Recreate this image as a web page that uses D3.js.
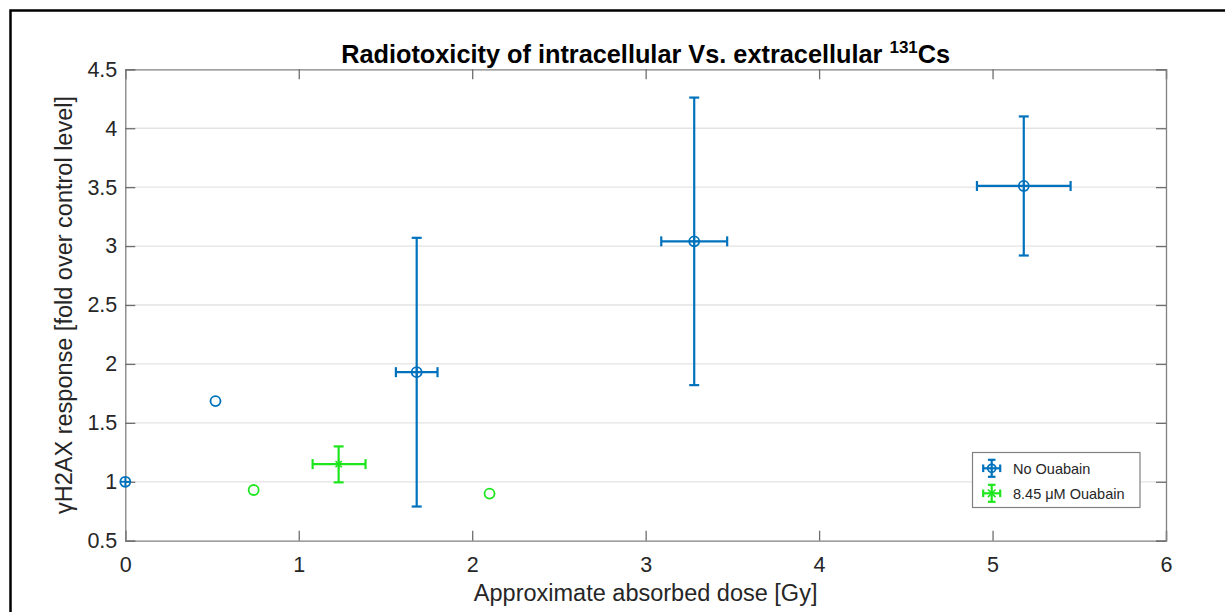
<!DOCTYPE html>
<html><head><meta charset="utf-8">
<script src="https://cdn.jsdelivr.net/npm/d3@7"></script>
<style>html,body{margin:0;background:#fff;overflow:hidden;} svg{display:block;font-family:Arial,"Liberation Sans",sans-serif;}</style>
</head><body>
<svg id="c" width="1225" height="612"></svg>
<script>
const xTicks = [0, 1, 2, 3, 4, 5, 6];
const yTicks = [0.5, 1, 1.5, 2, 2.5, 3, 3.5, 4, 4.5];
const yTickLabels = ["0.5", "1", "1.5", "2", "2.5", "3", "3.5", "4", "4.5"];

// No Ouabain (errorbar series)
const noOuaDose  = [0, 1.68, 3.28, 5.18];
const noOuaResp  = [1, 1.93, 3.04, 3.51];
const noOuaXLow  = [0, 1.56, 3.09, 4.91];
const noOuaXHigh = [0, 1.80, 3.47, 5.45];
const noOuaYLow  = [1, 0.79, 1.82, 2.92];
const noOuaYHigh = [1, 3.07, 4.26, 4.10];
// No Ouabain single point
const noOuaExtraDose = [0.52];
const noOuaExtraResp = [1.685];

// 8.45 µM Ouabain (errorbar series)
const ouaDose  = [1.23];
const ouaResp  = [1.15];
const ouaXLow  = [1.08];
const ouaXHigh = [1.385];
const ouaYLow  = [0.995];
const ouaYHigh = [1.30];
// Ouabain single points
const ouaExtraDose = [0.74, 2.10];
const ouaExtraResp = [0.93, 0.90];

const legendLabels = ["No Ouabain", "8.45 \u03bcM Ouabain"];
const titleMain = "Radiotoxicity of intracellular Vs. extracellular ";
const titleSup = "131";
const titleEnd = "Cs";
const xLabel = "Approximate absorbed dose [Gy]";
const yLabel = "\u03b3H2AX response [fold over control level]";

const blue = "#0072BD", green = "#1ee61e";
const svg = d3.select("#c");
const L = 125.3, R = 1166, T = 69.3, B = 540.7;
const x = d3.scaleLinear().domain([0, 6]).range([L, R]);
const y = d3.scaleLinear().domain([0.5, 4.5]).range([B, T]);

// outer black frame (only top/left edges are inside the picture)
svg.append("path").attr("d", "M10.5,612 V10.5 H1225")
  .attr("fill", "none").attr("stroke", "#000").attr("stroke-width", 2.5);

// grid
svg.append("g").selectAll("line").data(yTicks.slice(1, -1)).join("line")
  .attr("x1", L).attr("x2", R).attr("y1", d => y(d)).attr("y2", d => y(d))
  .attr("stroke", "#e3e3e3").attr("stroke-width", 1.3);

// axes
const tl = 10;
const axB = svg.append("g").attr("transform", `translate(0,${B})`)
  .call(d3.axisBottom(x).tickValues(xTicks).tickFormat(d3.format("d")).tickSize(-tl).tickPadding(16));
const axT = svg.append("g").attr("transform", `translate(0,${T})`)
  .call(d3.axisTop(x).tickValues(xTicks).tickFormat("").tickSize(-tl));
const axL = svg.append("g").attr("transform", `translate(${L},0)`)
  .call(d3.axisLeft(y).tickValues(yTicks).tickFormat((d, i) => yTickLabels[i]).tickSize(-tl).tickPadding(8));
const axR = svg.append("g").attr("transform", `translate(${R},0)`)
  .call(d3.axisRight(y).tickValues(yTicks).tickFormat("").tickSize(-tl));
[axB, axT, axL, axR].forEach(a => {
  a.select(".domain").attr("stroke", "#808080").attr("stroke-width", 1.3);
  a.selectAll(".tick line").attr("stroke", "#6e6e6e").attr("stroke-width", 1.3);
  a.selectAll("text").attr("fill", "#262626").attr("font-size", 21.5)
    .attr("font-family", "Arial, 'Liberation Sans', sans-serif");
});
axB.selectAll("text").attr("dy", "0.71em");

// errorbars
function errorbars(g, color, dx, dy, xl, xh, yl, yh) {
  const cap = 5;
  dx.forEach((d, i) => {
    const cx = x(d), cy = y(dy[i]);
    if (yl[i] !== yh[i]) {
      g.append("line").attr("x1", cx).attr("x2", cx).attr("y1", y(yl[i])).attr("y2", y(yh[i]));
      [yl[i], yh[i]].forEach(v => g.append("line").attr("x1", cx - cap).attr("x2", cx + cap).attr("y1", y(v)).attr("y2", y(v)));
    }
    if (xl[i] !== xh[i]) {
      g.append("line").attr("x1", x(xl[i])).attr("x2", x(xh[i])).attr("y1", cy).attr("y2", cy);
      [xl[i], xh[i]].forEach(v => g.append("line").attr("x1", x(v)).attr("x2", x(v)).attr("y1", cy - cap).attr("y2", cy + cap));
    }
  });
  g.attr("stroke", color).attr("stroke-width", 2.2).attr("fill", "none");
}
function circles(g, color, dx, dy, cross) {
  dx.forEach((d, i) => {
    const cx = x(d), cy = y(dy[i]), r = 5;
    g.append("circle").attr("cx", cx).attr("cy", cy).attr("r", r);
    if (cross) {
      g.append("line").attr("x1", cx - r).attr("x2", cx + r).attr("y1", cy).attr("y2", cy);
      g.append("line").attr("x1", cx).attr("x2", cx).attr("y1", cy - r).attr("y2", cy + r);
    }
  });
  g.attr("stroke", color).attr("stroke-width", 1.8).attr("fill", "none");
}
function stars(g, color, dx, dy) {
  dx.forEach((d, i) => {
    const cx = x(d), cy = y(dy[i]), r = 4.5;
    g.append("line").attr("x1", cx - r).attr("x2", cx + r).attr("y1", cy).attr("y2", cy);
    g.append("line").attr("x1", cx).attr("x2", cx).attr("y1", cy - r).attr("y2", cy + r);
    g.append("line").attr("x1", cx - r * .7).attr("x2", cx + r * .7).attr("y1", cy - r * .7).attr("y2", cy + r * .7);
    g.append("line").attr("x1", cx - r * .7).attr("x2", cx + r * .7).attr("y1", cy + r * .7).attr("y2", cy - r * .7);
  });
  g.attr("stroke", color).attr("stroke-width", 1.6).attr("fill", "none");
}

errorbars(svg.append("g"), blue, noOuaDose, noOuaResp, noOuaXLow, noOuaXHigh, noOuaYLow, noOuaYHigh);
circles(svg.append("g"), blue, noOuaDose, noOuaResp, true);
circles(svg.append("g"), blue, noOuaExtraDose, noOuaExtraResp, false);
errorbars(svg.append("g"), green, ouaDose, ouaResp, ouaXLow, ouaXHigh, ouaYLow, ouaYHigh);
stars(svg.append("g"), green, ouaDose, ouaResp);
circles(svg.append("g"), green, ouaExtraDose, ouaExtraResp, false);

// legend
const lg = svg.append("g");
lg.append("rect").attr("x", 972.5).attr("y", 452.5).attr("width", 167.5).attr("height", 55)
  .attr("fill", "#fff").attr("stroke", "#808080").attr("stroke-width", 1.2);
[[blue, "circ"], [green, "star"]].forEach((s, i) => {
  const cx = 991.7, cy = 468.3 + i * 25, h = 8.5, c = 3.8;
  const g = lg.append("g").attr("stroke", s[0]).attr("stroke-width", 2.2).attr("fill", "none");
  g.append("line").attr("x1", cx - h).attr("x2", cx + h).attr("y1", cy).attr("y2", cy);
  g.append("line").attr("x1", cx).attr("x2", cx).attr("y1", cy - h).attr("y2", cy + h);
  g.append("line").attr("x1", cx - c).attr("x2", cx + c).attr("y1", cy - h).attr("y2", cy - h);
  g.append("line").attr("x1", cx - c).attr("x2", cx + c).attr("y1", cy + h).attr("y2", cy + h);
  g.append("line").attr("x1", cx - h).attr("x2", cx - h).attr("y1", cy - c).attr("y2", cy + c);
  g.append("line").attr("x1", cx + h).attr("x2", cx + h).attr("y1", cy - c).attr("y2", cy + c);
  if (s[1] === "circ") g.append("circle").attr("cx", cx).attr("cy", cy).attr("r", 4).attr("stroke-width", 1.7);
  else {
    const r = 3.8;
    g.append("line").attr("x1", cx - r).attr("x2", cx + r).attr("y1", cy - r).attr("y2", cy + r).attr("stroke-width", 1.6);
    g.append("line").attr("x1", cx - r).attr("x2", cx + r).attr("y1", cy + r).attr("y2", cy - r).attr("stroke-width", 1.6);
  }
  lg.append("text").attr("x", 1013).attr("y", cy + 5.2).attr("font-size", 14.5).attr("fill", "#262626").text(legendLabels[i]);
});

// title
const t = svg.append("text").attr("x", (L + R) / 2).attr("y", 63).attr("text-anchor", "middle")
  .attr("font-size", 25.3).attr("font-weight", "bold").attr("fill", "#000");
t.append("tspan").text(titleMain);
t.append("tspan").attr("font-size", 17).attr("dy", -10).text(titleSup);
t.append("tspan").attr("dy", 10).text(titleEnd);

// axis labels
svg.append("text").attr("x", (L + R) / 2).attr("y", 601).attr("text-anchor", "middle")
  .attr("font-size", 23.5).attr("fill", "#262626").text(xLabel);
svg.append("text").attr("transform", `translate(72,${(T + B) / 2}) rotate(-90)`).attr("text-anchor", "middle")
  .attr("font-size", 23.5).attr("fill", "#262626").text(yLabel);
</script>
</body></html>
